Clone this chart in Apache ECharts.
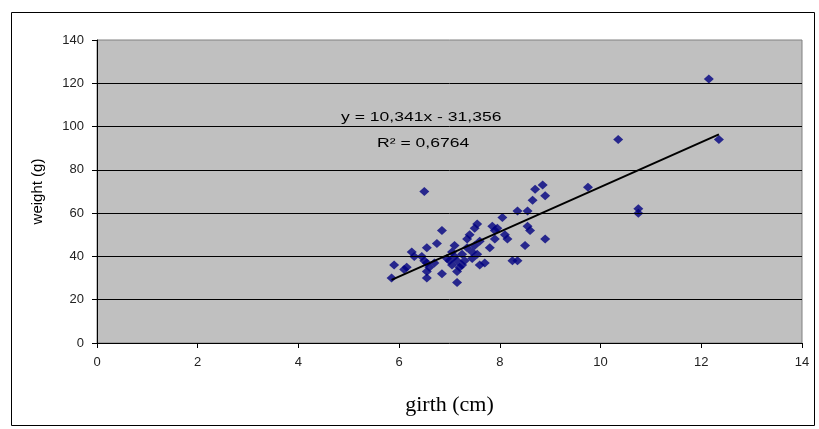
<!DOCTYPE html>
<html>
<head>
<meta charset="utf-8">
<script src="https://cdn.jsdelivr.net/npm/echarts@6/dist/echarts.min.js"></script>
<style>html,body{margin:0;padding:0;background:#fff}#c{width:819px;height:429px}</style>
</head>
<body>
<div id="c"></div>
<script>
const girth = [5.85,5.9,6.1,6.15,6.25,6.3,6.45,6.5,6.55,6.5,6.55,6.55,6.55,6.6,6.7,6.75,6.85,6.85,6.95,7.0,7.05,7.05,7.1,7.1,7.15,7.15,7.15,7.2,7.25,7.25,7.3,7.35,7.35,7.4,7.45,7.45,7.5,7.5,7.55,7.55,7.6,7.6,7.7,7.8,7.85,7.9,7.95,7.9,8.05,8.1,8.15,8.25,8.35,8.35,8.5,8.55,8.55,8.6,8.65,8.7,8.85,8.9,8.9,9.75,10.35,10.75,10.75,12.15,12.35];
const weight = [30,36,34,35,42,40,40,38,44,70,37,33,30,35,37,46,52,32,39,38,36,42,45,40,38,33,28,35,36,41,38,48,44,50,42,39,53,45,55,41,47,36,37,44,54,52,53,48,58,50,48,38,38,61,45,61,54,52,66,71,73,68,48,72,94,62,60,122,94];
const trendSlope = 10.341;
const trendIntercept = -31.356;
const xTicks = [0,2,4,6,8,10,12,14];
const yTicks = [0,20,40,60,80,100,120,140];
const gridValues = [20,40,60,80,100,120];

const points = girth.map((g,i)=>[g,weight[i]]);
const xMin = Math.min(...girth), xMax = Math.max(...girth);
const trend = [[xMin, trendSlope*xMin+trendIntercept],[xMax, trendSlope*xMax+trendIntercept]];

const chart = echarts.init(document.getElementById('c'));
chart.setOption({
  animation:false,
  backgroundColor:'#fff',
  grid:{left:97,right:17,top:40,bottom:86,show:true,backgroundColor:'#c0c0c0',borderColor:'#808080',borderWidth:1},
  xAxis:{type:'value',min:0,max:14,interval:2,
    name:'girth (cm)',nameLocation:'middle',nameGap:51,
    nameTextStyle:{fontFamily:'Liberation Serif',fontSize:22,color:'#000'},
    axisLine:{lineStyle:{color:'#000',width:1}},
    axisTick:{show:true,length:5,lineStyle:{color:'#000'}},
    axisLabel:{fontFamily:'Liberation Sans',fontSize:13,color:'#222',margin:13},
    splitLine:{show:false}},
  yAxis:{type:'value',min:0,max:140,interval:20,
    name:'weight (g)',nameLocation:'middle',nameGap:52,nameRotate:90,
    nameTextStyle:{fontFamily:'Liberation Sans',fontSize:15,color:'#000'},
    axisLine:{show:true,lineStyle:{color:'#000',width:1}},
    axisTick:{show:true,length:5,lineStyle:{color:'#000'}},
    axisLabel:{fontFamily:'Liberation Sans',fontSize:13,color:'#222',margin:13},
    splitLine:{show:false}},
  series:[
    {type:'scatter',data:points,symbol:'diamond',symbolSize:[10,9],
     itemStyle:{color:'#000080'},z:3,
     markLine:{silent:true,symbol:'none',label:{show:false},
       lineStyle:{color:'#000',width:1,type:'solid'},
       data:gridValues.map(v=>({yAxis:v}))}},
    {type:'line',data:trend,showSymbol:false,symbol:'none',
     lineStyle:{color:'#000',width:2},z:4}
  ],
  graphic:[
    {type:'rect',left:9,top:10,shape:{width:803,height:413},style:{fill:'none',stroke:'#000',lineWidth:1},silent:true},
    {type:'text',x:341,y:117,scaleX:1.35,style:{text:'y = 10,341x - 31,356',font:'13px "Liberation Sans"',fill:'#000',textVerticalAlign:'middle'}},
    {type:'text',x:377,y:143,scaleX:1.35,style:{text:'R² = 0,6764',font:'13px "Liberation Sans"',fill:'#000',textVerticalAlign:'middle'}}
  ]
});
</script>
</body>
</html>
